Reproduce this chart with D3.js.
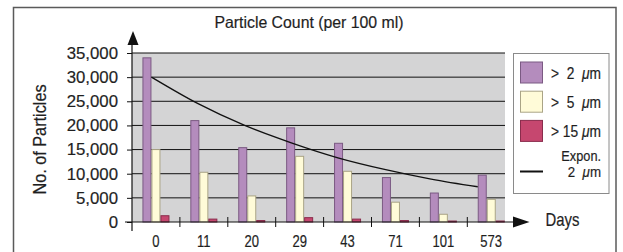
<!DOCTYPE html>
<html>
<head>
<meta charset="utf-8">
<script src="https://cdn.jsdelivr.net/npm/d3@7"></script>
<style>
  body { margin: 0; background: #fff; }
  svg { display: block; font-family: "Liberation Sans", Arial, sans-serif; }
  text { white-space: pre; }
</style>
</head>
<body>
<svg id="chart" width="623" height="252"></svg>
<script>
// data
var days = ["0", "11", "20", "29", "43", "71", "101", "573"];
var gt2 = [34000, 21000, 15400, 19500, 16300, 9200, 6000, 9700];
var gt5 = [15000, 10300, 5400, 13600, 10500, 4100, 1600, 4700];
var gt15 = [1300, 600, 300, 900, 600, 300, 200, 200];
var expon2 = [30000, 24500, 20000, 16400, 13300, 10900, 8900, 7300];
var yTicks = [0, 5000, 10000, 15000, 20000, 25000, 30000, 35000];
var seriesNames = ["gt2", "gt5", "gt15"];
var legendLabels = [">  2  ", ">  5  ", "> 15 "];

var colors = {gt2: "#b48cbd", gt5: "#fffbd8", gt15: "#c6476f"};
var strokes = {gt2: "#7b5a83", gt5: "#aaa486", gt15: "#8a2c4c"};

var svg = d3.select("#chart");

var plot = {left: 132, right: 505, top: 53, bottom: 222};

var x = d3.scaleBand().domain(days).range([132, 515.2]).paddingInner(0).paddingOuter(0);
var xs = d3.scaleBand().domain(seriesNames).range([0, x.bandwidth()]).paddingOuter(1.16).paddingInner(0);
var y = d3.scaleLinear().domain([0, 35000]).range([plot.bottom, plot.top]);

// trend line runs from the right edge of the first purple bar to the left edge of the last one
var xt = d3.scalePoint().domain(days)
  .range([x(days[0]) + xs("gt2") + xs.bandwidth(), x(days[days.length - 1]) + xs("gt2")]);

function label(g, px, py, txt, size, sx, anchor) {
  return g.append("text")
    .attr("transform", "translate(" + px + "," + py + ") scale(" + sx + ",1)")
    .attr("text-anchor", anchor || "start")
    .attr("font-size", size)
    .attr("fill", "#1f1f1f")
    .attr("stroke", "#1f1f1f").attr("stroke-width", 0.2)
    .text(txt);
}

// outer frame
svg.append("rect")
  .attr("x", 13.5).attr("y", 7.5).attr("width", 602.5).attr("height", 260)
  .attr("fill", "none").attr("stroke", "#5a5a5a").attr("stroke-width", 1.5);

// title
label(svg, 309, 28, "Particle Count (per 100 ml)", 16.5, 0.96, "middle");

// plot background
svg.append("rect")
  .attr("x", plot.left).attr("y", plot.top)
  .attr("width", plot.right - plot.left).attr("height", plot.bottom - plot.top)
  .attr("fill", "#d4d4d5");

// gridlines
svg.append("g").selectAll("line")
  .data(yTicks.slice(1))
  .enter().append("line")
  .attr("x1", plot.left).attr("x2", plot.right)
  .attr("y1", function(d) { return y(d); }).attr("y2", function(d) { return y(d); })
  .attr("stroke", "#111").attr("stroke-width", 1);

// y axis
var yAxis = d3.axisLeft(y).tickValues(yTicks).tickSize(5).tickPadding(9)
  .tickFormat(d3.format(","));
var gY = svg.append("g").attr("transform", "translate(" + plot.left + ",0)").call(yAxis);
gY.select(".domain").remove();
gY.selectAll(".tick line").attr("stroke", "#111");
gY.selectAll(".tick text")
  .attr("font-size", 16.8).attr("fill", "#1f1f1f")
  .attr("stroke", "#1f1f1f").attr("stroke-width", 0.2)
  .attr("font-family", "Liberation Sans, Arial, sans-serif");

// bars
var groups = svg.append("g").selectAll("g")
  .data(days)
  .enter().append("g")
  .attr("transform", function(d) { return "translate(" + x(d) + ",0)"; });

var dataBy = {gt2: gt2, gt5: gt5, gt15: gt15};
groups.selectAll("rect")
  .data(function(d, i) { return seriesNames.map(function(s) { return {s: s, v: dataBy[s][i]}; }); })
  .enter().append("rect")
  .attr("x", function(d) { return xs(d.s) + 0.5; })
  .attr("y", function(d) { return y(d.v); })
  .attr("width", xs.bandwidth() - 1)
  .attr("height", function(d) { return y(0) - y(d.v); })
  .attr("fill", function(d) { return colors[d.s]; })
  .attr("stroke", function(d) { return strokes[d.s]; })
  .attr("stroke-width", 1);

// exponential trend
var line = d3.line()
  .x(function(d, i) { return xt(days[i]); })
  .y(function(d) { return y(d); })
  .curve(d3.curveMonotoneX);
svg.append("path").datum(expon2)
  .attr("d", line).attr("fill", "none").attr("stroke", "#111").attr("stroke-width", 1.3);

// axis lines + arrows
svg.append("line").attr("x1", plot.left).attr("x2", plot.left).attr("y1", 44).attr("y2", 231)
  .attr("stroke", "#111").attr("stroke-width", 1.2);
svg.append("path").attr("d", "M133,31 L127.5,45 L138.5,45 Z").attr("fill", "#111");
svg.append("line").attr("x1", 125).attr("x2", 514).attr("y1", y(0)).attr("y2", y(0))
  .attr("stroke", "#111").attr("stroke-width", 1.2);
svg.append("path").attr("d", "M529.5," + y(0) + " L513," + (y(0) - 5.5) + " L513," + (y(0) + 5.5) + " Z").attr("fill", "#111");

// x ticks and labels
svg.append("g").selectAll("line")
  .data(days.slice(1))
  .enter().append("line")
  .attr("x1", function(d) { return x(d); }).attr("x2", function(d) { return x(d); })
  .attr("y1", y(0) - 5).attr("y2", y(0) + 5)
  .attr("stroke", "#111").attr("stroke-width", 1);
days.forEach(function(d) {
  label(svg, x(d) + x.bandwidth() / 2, 247, d, 16.3, 0.8, "middle");
});
label(svg, 562.5, 226, "Days", 17.7, 0.84, "middle");

// y title
svg.append("text")
  .attr("transform", "translate(45.5,139.5) rotate(-90) scale(0.93,1)")
  .attr("text-anchor", "middle").attr("font-size", 17.5).attr("fill", "#1f1f1f")
  .attr("stroke", "#1f1f1f").attr("stroke-width", 0.2)
  .text("No. of Particles");

// legend
var lg = svg.append("g");
lg.append("rect").attr("x", 513.5).attr("y", 53.5).attr("width", 95.5).attr("height", 140)
  .attr("fill", "#fff").attr("stroke", "#8a8a8a").attr("stroke-width", 1);
seriesNames.forEach(function(s, i) {
  var ry = 62 + i * 29.2;
  lg.append("rect").attr("x", 520.5).attr("y", ry).attr("width", 22).attr("height", 21)
    .attr("fill", colors[s]).attr("stroke", strokes[s]).attr("stroke-width", 1);
  var t = label(lg, 551, ry + 16.5, "", 16, 0.86, "start");
  t.append("tspan").text(legendLabels[i]);
  t.append("tspan").attr("font-style", "italic").text("\u03bc");
  t.append("tspan").text("m");
});
lg.append("line").attr("x1", 520).attr("x2", 543).attr("y1", 171.5).attr("y2", 171.5)
  .attr("stroke", "#111").attr("stroke-width", 2);
label(lg, 601, 161, "Expon.", 15, 0.85, "end");
var t2 = label(lg, 601, 177, "", 15.5, 0.86, "end");
t2.append("tspan").text("2  ");
t2.append("tspan").attr("font-style", "italic").text("\u03bc");
t2.append("tspan").text("m");
</script>
</body>
</html>
